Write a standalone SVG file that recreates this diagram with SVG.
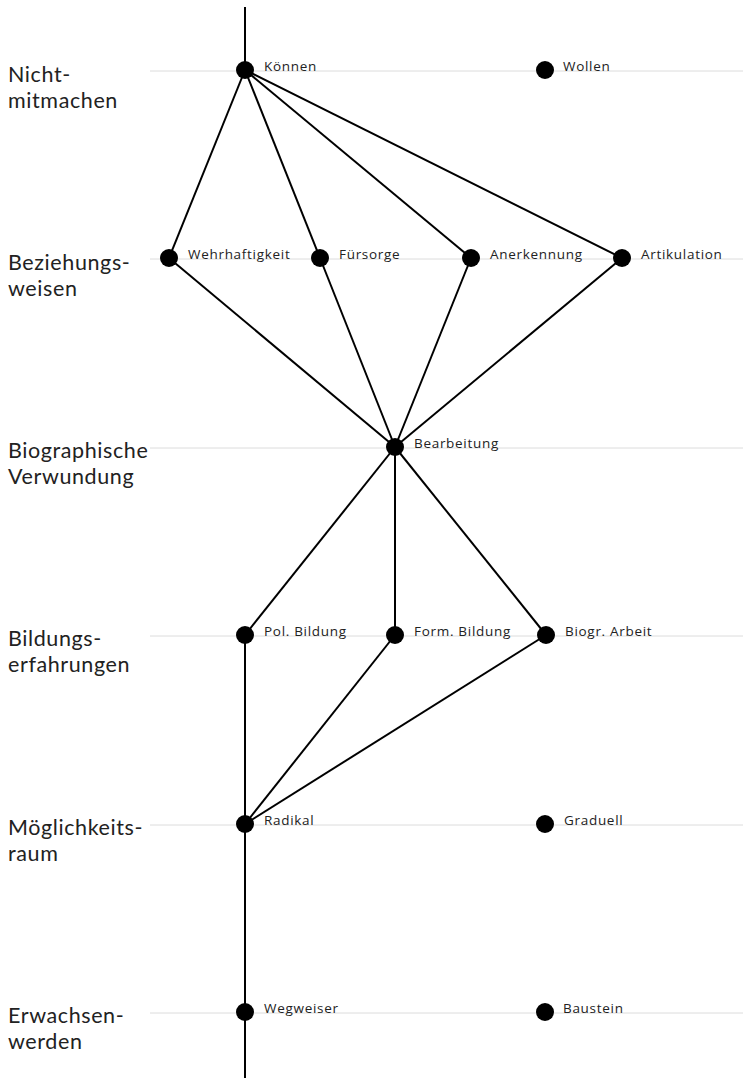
<svg xmlns="http://www.w3.org/2000/svg" width="743" height="1078" viewBox="0 0 743 1078">
<style>
.grid{stroke:#dcdcdc;stroke-width:1}
.e{stroke:#000;stroke-width:2;fill:none}
.n{fill:#000}
.lab{font-family:"Open Sans","DejaVu Sans",sans-serif;font-size:13.5px;letter-spacing:0.7px;fill:#222}
.row{font-family:Lato,"Open Sans",sans-serif;font-size:21.5px;letter-spacing:0.6px;fill:#222}
</style>
<rect width="743" height="1078" fill="#fff"/>
<g id="gridlines">
<line class="grid" x1="150" y1="71" x2="743" y2="71"/>
<line class="grid" x1="150" y1="259" x2="743" y2="259"/>
<line class="grid" x1="150" y1="448" x2="743" y2="448"/>
<line class="grid" x1="150" y1="636" x2="743" y2="636"/>
<line class="grid" x1="150" y1="825" x2="743" y2="825"/>
<line class="grid" x1="150" y1="1013" x2="743" y2="1013"/>
</g>
<g id="row-labels">
<text class="row" x="8" y="82">Nicht-</text>
<text class="row" x="8" y="108">mitmachen</text>
<text class="row" x="8" y="270">Beziehungs-</text>
<text class="row" x="8" y="296">weisen</text>
<text class="row" x="8" y="458">Biographische</text>
<text class="row" x="8" y="484">Verwundung</text>
<text class="row" x="8" y="646">Bildungs-</text>
<text class="row" x="8" y="672">erfahrungen</text>
<text class="row" x="8" y="835">Möglichkeits-</text>
<text class="row" x="8" y="861">raum</text>
<text class="row" x="8" y="1023">Erwachsen-</text>
<text class="row" x="8" y="1049">werden</text>
</g>
<g id="connectors">
<line class="e" x1="245" y1="7" x2="245" y2="70"/>
<line class="e" x1="245" y1="70" x2="169" y2="258"/>
<line class="e" x1="245" y1="70" x2="320" y2="258"/>
<line class="e" x1="245" y1="70" x2="471" y2="258"/>
<line class="e" x1="245" y1="70" x2="622" y2="258"/>
<line class="e" x1="169" y1="258" x2="395" y2="447"/>
<line class="e" x1="320" y1="258" x2="395" y2="447"/>
<line class="e" x1="471" y1="258" x2="395" y2="447"/>
<line class="e" x1="622" y1="258" x2="395" y2="447"/>
<line class="e" x1="395" y1="447" x2="245" y2="635"/>
<line class="e" x1="395" y1="447" x2="395" y2="635"/>
<line class="e" x1="395" y1="447" x2="546" y2="635"/>
<line class="e" x1="395" y1="635" x2="245" y2="824"/>
<line class="e" x1="546" y1="635" x2="245" y2="824"/>
<line class="e" x1="245" y1="635" x2="245" y2="1078"/>
</g>
<g id="n-koennen"><circle class="n" cx="245" cy="70" r="9"/><text class="lab" x="264" y="71">Können</text></g>
<g id="n-wollen"><circle class="n" cx="545" cy="70" r="9"/><text class="lab" x="563" y="71">Wollen</text></g>
<g id="n-wehrhaftigkeit"><circle class="n" cx="169" cy="258" r="9"/><text class="lab" x="188" y="259">Wehrhaftigkeit</text></g>
<g id="n-fuersorge"><circle class="n" cx="320" cy="258" r="9"/><text class="lab" x="339" y="259">Fürsorge</text></g>
<g id="n-anerkennung"><circle class="n" cx="471" cy="258" r="9"/><text class="lab" x="490" y="259">Anerkennung</text></g>
<g id="n-artikulation"><circle class="n" cx="622" cy="258" r="9"/><text class="lab" x="641" y="259">Artikulation</text></g>
<g id="n-bearbeitung"><circle class="n" cx="395" cy="447" r="9"/><text class="lab" x="414" y="448">Bearbeitung</text></g>
<g id="n-polbildung"><circle class="n" cx="245" cy="635" r="9"/><text class="lab" x="264" y="636">Pol. Bildung</text></g>
<g id="n-formbildung"><circle class="n" cx="395" cy="635" r="9"/><text class="lab" x="414" y="636">Form. Bildung</text></g>
<g id="n-biograrbeit"><circle class="n" cx="546" cy="635" r="9"/><text class="lab" x="565" y="636">Biogr. Arbeit</text></g>
<g id="n-radikal"><circle class="n" cx="245" cy="824" r="9"/><text class="lab" x="264" y="825">Radikal</text></g>
<g id="n-graduell"><circle class="n" cx="545" cy="824" r="9"/><text class="lab" x="564" y="825">Graduell</text></g>
<g id="n-wegweiser"><circle class="n" cx="245" cy="1012" r="9"/><text class="lab" x="264" y="1013">Wegweiser</text></g>
<g id="n-baustein"><circle class="n" cx="545" cy="1012" r="9"/><text class="lab" x="563" y="1013">Baustein</text></g>
</svg>
